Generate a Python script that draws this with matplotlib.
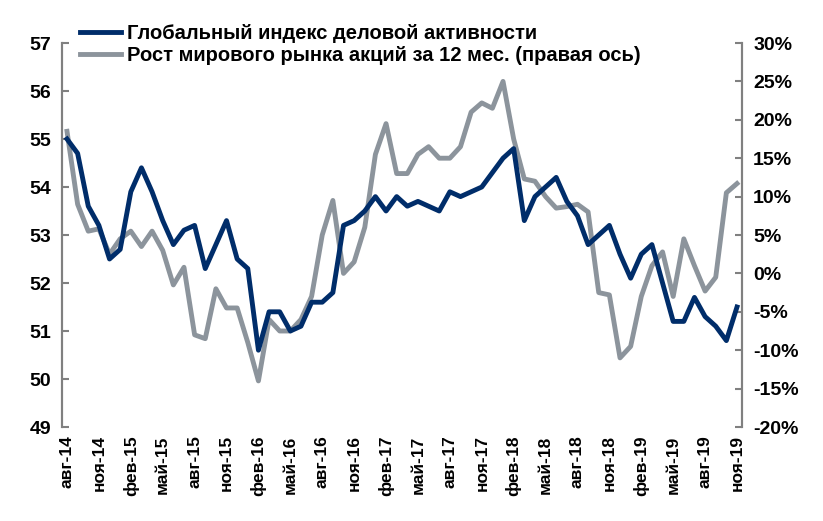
import numpy as np
import matplotlib.pyplot as plt
from matplotlib.ticker import FuncFormatter

plt.rcParams["font.family"] = "Liberation Sans"
plt.rcParams["font.weight"] = "bold"

months = ["янв", "фев", "мар", "апр", "май", "июн", "июл", "авг", "сен", "окт", "ноя", "дек"]
labels = []
for i in range(64):
    m = (7 + i) % 12
    y = 14 + (7 + i) // 12
    labels.append(f"{months[m]}-{y}")

pmi = [55.0, 54.7, 53.6, 53.2, 52.5,
       52.7, 53.9, 54.4, 53.9, 53.3, 52.8, 53.1, 53.2, 52.3, 52.8, 53.3, 52.5,
       52.3, 50.6, 51.4, 51.4, 51.0, 51.1, 51.6, 51.6, 51.8, 53.2, 53.3, 53.5,
       53.8, 53.5, 53.8, 53.6, 53.7, 53.6, 53.5, 53.9, 53.8, 53.9, 54.0, 54.3,
       54.6, 54.8, 53.3, 53.8, 54.0, 54.2, 53.7, 53.4, 52.8, 53.0, 53.2, 52.6,
       52.1, 52.6, 52.8, 52.0, 51.2, 51.2, 51.7, 51.3, 51.1, 50.8, 51.5]
stocks = [18.5, 9, 5.5, 5.8, 2.5,
          4.5, 5.5, 3.5, 5.5, 3, -1.5, 0.8, -8, -8.5, -2, -4.5, -4.5,
          -9, -14, -6, -7.5, -7.5, -6, -3, 5, 9.5, 0, 1.5, 6,
          15.5, 19.5, 13, 13, 15.5, 16.5, 15, 15, 16.5, 21, 22.2, 21.5,
          25, 17.5, 12.3, 12, 10, 8.5, 8.7, 9, 8, -2.5, -2.8, -11,
          -9.5, -3, 1, 2.8, -3, 4.5, 1, -2.3, -0.5, 10.5, 11.7]

x = np.arange(len(labels))
fig = plt.figure(figsize=(8.23, 5.21), dpi=100)
ax = fig.add_axes([62 / 823, 1 - 427 / 521, (742 - 62) / 823, 384 / 521])
ax2 = ax.twinx()

l1, = ax.plot(x, pmi, color="#002D6A", lw=3.5, zorder=3)
l2, = ax2.plot(x, stocks, color="#8C949C", lw=3.5)
ax.set_zorder(ax2.get_zorder() + 1)
ax.patch.set_visible(False)

ax.set_ylim(49, 57)
ax2.set_ylim(-20, 30)
ax.set_xlim(-0.47, len(x) - 1 + 0.47)
ax.set_yticks(range(49, 58))
ax2.set_yticks(range(-20, 31, 5))
ax2.yaxis.set_major_formatter(FuncFormatter(lambda v, p: f"{v:.0f}%"))
ax.set_xticks(x[::3])
ax.set_xticklabels(labels[::3], rotation=90)

for a in (ax, ax2):
    for s in ("top", "bottom"):
        a.spines[s].set_visible(False)
    for s in ("left", "right"):
        a.spines[s].set_color("#808080")
        a.spines[s].set_linewidth(1.5)
    a.tick_params(axis="y", labelsize=14, color="#808080", width=1.5,
                  length=5, direction="in", pad=8)
    a.tick_params(axis="x", labelsize=12.5, length=0, pad=6)

ax.legend([l1, l2], ["Глобальный индекс деловой активности",
                     "Рост мирового рынка акций за 12 мес. (правая ось)"],
          loc="upper left", bbox_to_anchor=(0.015, 1.07), frameon=False,
          fontsize=14.5, handlelength=2.0, handletextpad=0.3,
          borderaxespad=0, labelspacing=0.15)

fig.savefig("out.png")
